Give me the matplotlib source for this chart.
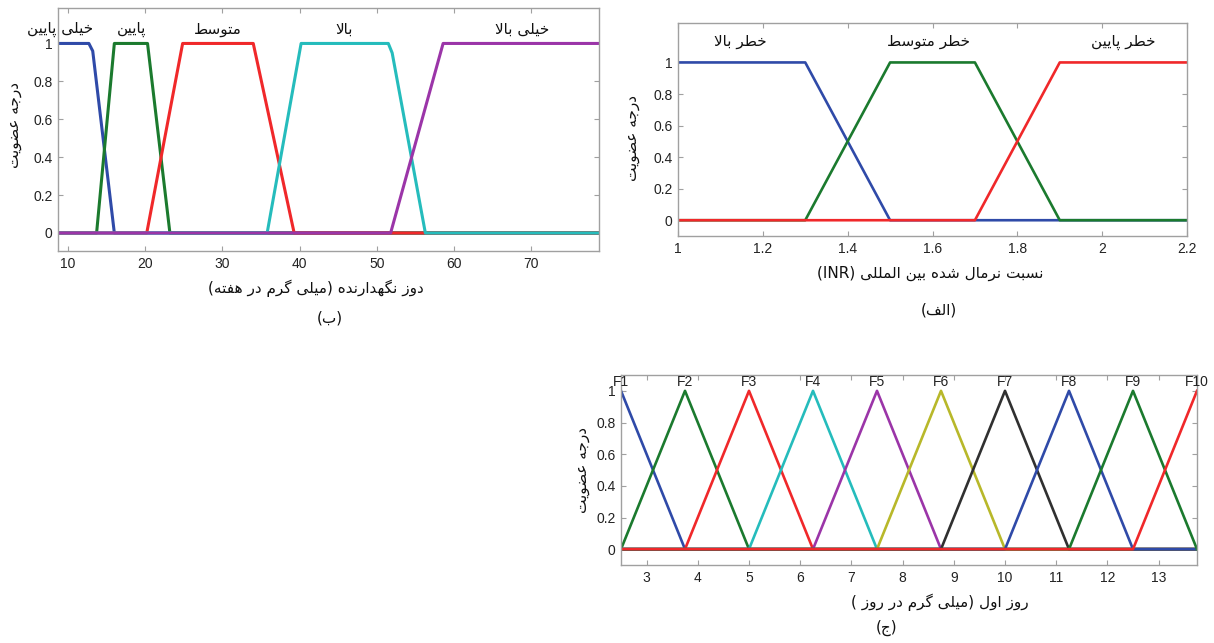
import re
import numpy as np
import matplotlib
matplotlib.use('Agg')
import matplotlib.pyplot as plt

plt.rcParams['font.family'] = ['Liberation Sans', 'DejaVu Sans']

# ---------------- data ----------------
# (ب) maintenance dose, mg per week
b_names = ['خیلی پایین', 'پایین', 'متوسط', 'بالا', 'خیلی بالا']
b_x = [[8.7, 12.7, 13.2, 16.0, 79.0],
       [8.7, 13.7, 16.0, 20.3, 23.2, 79.0],
       [8.7, 20.2, 24.85, 34.0, 39.3, 79.0],
       [8.7, 35.8, 40.2, 51.5, 52.0, 56.3, 79.0],
       [8.7, 51.8, 58.6, 79.0]]
b_y = [[1, 1, 0.96, 0, 0],
       [0, 0, 1, 1, 0, 0],
       [0, 0, 1, 1, 0, 0],
       [0, 0, 1, 1, 0.95, 0, 0],
       [0, 0, 1, 1]]
b_label_x = [9.0, 18.2, 29.4, 45.8, 68.9]
b_xticks = [10, 20, 30, 40, 50, 60, 70]

# (الف) INR
a_names = ['خطر بالا', 'خطر متوسط', 'خطر پایین']
a_x = [[1.0, 1.3, 1.5, 2.2],
       [1.0, 1.3, 1.5, 1.7, 1.9, 2.2],
       [1.0, 1.7, 1.9, 2.2]]
a_y = [[1, 1, 0, 0],
       [0, 0, 1, 1, 0, 0],
       [0, 0, 1, 1]]
a_label_x = [1.146, 1.59, 2.05]
a_xticks = [1, 1.2, 1.4, 1.6, 1.8, 2, 2.2]
a_xticklabels = ['1', '1.2', '1.4', '1.6', '1.8', '2', '2.2']

# (ج) first-day dose, triangular sets
c_names = ['F1', 'F2', 'F3', 'F4', 'F5', 'F6', 'F7', 'F8', 'F9', 'F10']
c_peaks = [2.5, 3.75, 5.0, 6.25, 7.5, 8.75, 10.0, 11.25, 12.5, 13.75]
c_half = 1.25
c_xticks = [3, 4, 5, 6, 7, 8, 9, 10, 11, 12, 13]

y_ticks = [0, 0.2, 0.4, 0.6, 0.8, 1]
y_ticklabels = ['0', '0.2', '0.4', '0.6', '0.8', '1']

BLUE = '#2f4aa8'
GREEN = '#1b7a2e'
RED = '#f0282a'
CYAN = '#25bcbc'
PURPLE = '#9b35a8'
OLIVE = '#b8b82a'
BLACK = '#303030'
b_colors = [BLUE, GREEN, RED, CYAN, PURPLE]
a_colors = [BLUE, GREEN, RED]
c_colors = [BLUE, GREEN, RED, CYAN, PURPLE, OLIVE, BLACK, BLUE, GREEN, RED]

# ---------------- persian text (manual shaping + bidi) ----------------
FORMS = {
    'ا': ('\uFE8D', '\uFE8E', None, None),
    'ب': ('\uFE8F', '\uFE90', '\uFE91', '\uFE92'),
    'پ': ('\uFB56', '\uFB57', '\uFB58', '\uFB59'),
    'ت': ('\uFE95', '\uFE96', '\uFE97', '\uFE98'),
    'ج': ('\uFE9D', '\uFE9E', '\uFE9F', '\uFEA0'),
    'خ': ('\uFEA5', '\uFEA6', '\uFEA7', '\uFEA8'),
    'د': ('\uFEA9', '\uFEAA', None, None),
    'ر': ('\uFEAD', '\uFEAE', None, None),
    'ز': ('\uFEAF', '\uFEB0', None, None),
    'س': ('\uFEB1', '\uFEB2', '\uFEB3', '\uFEB4'),
    'ش': ('\uFEB5', '\uFEB6', '\uFEB7', '\uFEB8'),
    'ض': ('\uFEBD', '\uFEBE', '\uFEBF', '\uFEC0'),
    'ط': ('\uFEC1', '\uFEC2', '\uFEC3', '\uFEC4'),
    'ع': ('\uFEC9', '\uFECA', '\uFECB', '\uFECC'),
    'ف': ('\uFED1', '\uFED2', '\uFED3', '\uFED4'),
    'گ': ('\uFB92', '\uFB93', '\uFB94', '\uFB95'),
    'ل': ('\uFEDD', '\uFEDE', '\uFEDF', '\uFEE0'),
    'م': ('\uFEE1', '\uFEE2', '\uFEE3', '\uFEE4'),
    'ن': ('\uFEE5', '\uFEE6', '\uFEE7', '\uFEE8'),
    'ه': ('\uFEE9', '\uFEEA', '\uFEEB', '\uFEEC'),
    'و': ('\uFEED', '\uFEEE', None, None),
    'ی': ('\uFBFC', '\uFBFD', '\uFBFE', '\uFBFF'),
}


def fa(s):
    out = []
    i = 0
    while i < len(s):
        c = s[i]
        if c not in FORMS:
            out.append(c)
            i += 1
            continue
        prev = s[i - 1] if i > 0 else None
        prev_joins = prev in FORMS and FORMS[prev][2] is not None
        if c == 'ل' and i + 1 < len(s) and s[i + 1] == 'ا':
            out.append('\uFEFC' if prev_joins else '\uFEFB')
            i += 2
            continue
        nxt = s[i + 1] if i + 1 < len(s) else None
        iso, fin, ini, med = FORMS[c]
        next_joins = ini is not None and nxt in FORMS
        if prev_joins and next_joins:
            out.append(med)
        elif prev_joins:
            out.append(fin)
        elif next_joins:
            out.append(ini)
        else:
            out.append(iso)
        i += 1
    vis = ''.join(out)[::-1]
    vis = vis.translate(str.maketrans('()', ')('))
    return re.sub(r'[A-Za-z0-9]+', lambda m: m.group(0)[::-1], vis)


# ---------------- figure ----------------
fig = plt.figure(figsize=(12.14, 6.43), dpi=100)
W, H = 1214, 643


def box(l, t, r, b):
    return [l / W, 1 - b / H, (r - l) / W, (b - t) / H]


def style(ax):
    for sp in ax.spines.values():
        sp.set_color('#a0a0a0')
        sp.set_linewidth(1.0)
    ax.tick_params(direction='in', top=True, right=True, length=3.5,
                   width=0.8, color='#a0a0a0', labelsize=10,
                   labelcolor='#222222', pad=4)
    ax.set_yticks(y_ticks)
    ax.set_yticklabels(y_ticklabels)


ylab = fa('درجه عضویت')
AR = dict(family='DejaVu Sans', color='#111111')

# (ب)
ax_b = fig.add_axes(box(58, 8, 599, 251))
for xs, ys, col in zip(b_x, b_y, b_colors):
    ax_b.plot(xs, ys, color=col, lw=2.2)
for name, lx in zip(b_names, b_label_x):
    ax_b.text(lx, 1.075, fa(name), ha='center', va='center', fontsize=11, **AR)
ax_b.set_xlim(8.7, 78.8)
ax_b.set_ylim(-0.095, 1.187)
ax_b.set_xticks(b_xticks)
style(ax_b)
fig.text(316 / W, 1 - 288 / H, fa('دوز نگهدارنده (میلی گرم در هفته)'),
         ha='center', va='center', fontsize=11, **AR)
fig.text(330 / W, 1 - 318 / H, fa('(ب)'), ha='center', va='center', fontsize=11, **AR)
fig.text(15 / W, 1 - 125 / H, ylab, rotation=90, ha='center', va='center', fontsize=11, **AR)

# (الف)
ax_a = fig.add_axes(box(678, 23, 1187, 236))
for xs, ys, col in zip(a_x, a_y, a_colors):
    ax_a.plot(xs, ys, color=col, lw=1.9)
for name, lx in zip(a_names, a_label_x):
    ax_a.text(lx, 1.13, fa(name), ha='center', va='center', fontsize=11, **AR)
ax_a.set_xlim(1, 2.2)
ax_a.set_ylim(-0.1, 1.25)
ax_a.set_xticks(a_xticks)
ax_a.set_xticklabels(a_xticklabels)
style(ax_a)
fig.text(930 / W, 1 - 273 / H, fa('نسبت نرمال شده بین المللی (INR)'),
         ha='center', va='center', fontsize=11, **AR)
fig.text(939 / W, 1 - 310 / H, fa('(الف)'), ha='center', va='center', fontsize=11, **AR)
fig.text(633 / W, 1 - 138 / H, ylab, rotation=90, ha='center', va='center', fontsize=11, **AR)

# (ج)
ax_c = fig.add_axes(box(621, 375, 1197, 565))
x_lo, x_hi = c_peaks[0], c_peaks[-1]
for name, pk, col in zip(c_names, c_peaks, c_colors):
    xs = sorted({x_lo, x_hi, *[v for v in (pk - c_half, pk, pk + c_half) if x_lo <= v <= x_hi]})
    ys = [max(0.0, 1 - abs(x - pk) / c_half) for x in xs]
    ax_c.plot(xs, ys, color=col, lw=1.9)
    ax_c.text(pk, 1.055, name, ha='center', va='center', fontsize=10, color='#222222')
ax_c.set_xlim(x_lo, x_hi)
ax_c.set_ylim(-0.1, 1.1)
ax_c.set_xticks(c_xticks)
style(ax_c)
fig.text(940 / W, 1 - 602 / H, fa('روز اول (میلی گرم در روز )'),
         ha='center', va='center', fontsize=11, **AR)
fig.text(887 / W, 1 - 628 / H, fa('(ج)'), ha='center', va='center', fontsize=11, **AR)
fig.text(583 / W, 1 - 470 / H, ylab, rotation=90, ha='center', va='center', fontsize=11, **AR)

fig.savefig('out.png', dpi=100)
